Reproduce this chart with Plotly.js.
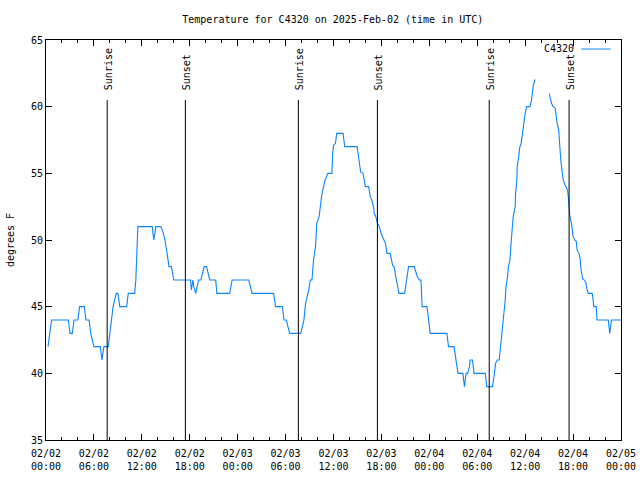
<!DOCTYPE html>
<html>
<head>
<meta charset="utf-8">
<script src="https://cdn.plot.ly/plotly-3.0.1.min.js"></script>
<style>html,body{margin:0;padding:0;background:#fff}#chart{width:640px;height:480px}</style>
</head>
<body>
<div id="chart"></div>
<script>
// Hours since 2025-02-02 00:00 UTC
const hours = [
0.25,0.5,0.7,2.8,3.0,3.3,3.5,4.0,4.2,4.8,5.0,5.4,5.6,6.0,6.8,7.0,7.25,7.8,8.0,8.2,8.4,8.8,9.0,9.25,10.1,10.3,11.1,
11.25,11.35,11.45,11.5,13.3,13.5,13.75,14.4,14.7,14.9,15.1,15.2,15.4,15.7,16.0,18.1,18.2,18.4,18.5,18.75,19.1,19.4,
19.8,20.1,20.5,21.25,21.4,23.0,23.3,25.4,25.8,28.5,28.75,29.6,29.8,30.1,30.5,31.9,
32.3,32.5,32.9,33.1,33.3,33.5,33.75,33.9,34.2,34.3,34.5,34.75,34.95,35.3,35.8,35.9,36.0,36.25,36.4,37.2,37.4,38.96,
39.1,39.25,39.4,39.7,39.9,40.0,40.4,40.6,40.8,41.0,41.1,41.3,41.5,41.75,41.95,42.2,42.5,42.7,43.1,43.4,43.6,43.8,43.96,
44.2,44.9,45.1,45.3,45.4,46.1,46.3,46.5,46.75,46.95,47.1,47.7,47.9,48.1,50.2,50.4,51.1,51.25,51.4,51.6,52.2,52.4,
52.6,52.8,53.0,53.1,53.4,53.6,55.0,55.2,55.9,56.1,56.3,56.5,56.75,56.96,57.2,57.4,57.5,57.6,57.8,57.9,58.1,58.2,58.3,
58.4,58.5,58.75,58.8,58.96,59.0,59.2,59.3,59.5,59.6,59.75,59.9,60.0,60.2,60.6,60.8,60.9,61.0,61.2,61.3,
62.0,
63.0,63.2,63.3,63.5,63.75,63.9,64.0,64.2,64.25,64.4,64.5,64.6,64.75,64.9,65.1,65.3,65.4,65.5,65.6,65.8,65.9,66.0,66.2,
66.4,66.5,66.75,66.9,67.0,67.2,67.4,67.6,67.7,67.9,68.4,68.5,68.6,68.9,69.0,70.4,70.6,70.8,72.0
];
const tempF = [
42,43,44,44,43,43,44,44,45,45,44,44,43,42,42,41,42,42,43,44,45,46,46,45,45,46,46,
47,48.75,50.25,51,51,50,51,51,50.5,50,49.25,48.75,48,48,47,47,46.25,47,46.5,46,47,47,
48,48,47,47,46,46,47,47,46,46,45,45,44,44,43,43,
44,45.25,46.25,47,47,48.5,49.5,51.25,51.75,52.25,53.25,54,54.5,55,55,56.5,57.1,57.25,58,58,57,57,
56.5,55.75,55.1,55,54.25,54,54,53.25,53,52.5,52,51.75,51.25,51,50.5,50.1,49.75,49,49,48.1,48,47.25,46.75,
46,46,46.75,47.6,48,48,47.6,47.25,47,47,45,45,44.1,43,43,42,42,41.5,40.75,40,40,39,
40,40,40.4,41,41,40,40,39,39,39.75,40.75,41,41,42.25,43.5,44.5,45.5,46.5,47.25,48,48.5,49.5,50.5,
51.25,51.75,52.5,53.5,54.5,55.5,56.25,56.9,57.25,57.75,58.25,58.9,59.5,60,60,60.5,61,61.5,62,62,
null,
61,60.5,60.25,60,59.9,59.25,58.75,58.25,57.5,56.5,55.75,55.25,54.6,54.25,54,53.75,53.25,52.5,51.75,51.25,50.75,50.25,50,
49.9,49.25,49,48.5,47.75,47.1,47,46.8,46.4,46,46,45.5,45,45,44,44,43,44,44
];

const sunEventHours = [7.66, 17.45, 31.6, 41.5, 55.5, 65.5];
const sunEventLabels = ["Sunrise", "Sunset", "Sunrise", "Sunset", "Sunrise", "Sunset"];

const xTickVals = [0,6,12,18,24,30,36,42,48,54,60,66,72];
const xTickText = ["02/02<br>00:00","02/02<br>06:00","02/02<br>12:00","02/02<br>18:00",
  "02/03<br>00:00","02/03<br>06:00","02/03<br>12:00","02/03<br>18:00",
  "02/04<br>00:00","02/04<br>06:00","02/04<br>12:00","02/04<br>18:00","02/05<br>00:00"];
const yTickVals = [35,40,45,50,55,60,65];

const seriesName = "C4320";
const lineColor = "#0a84ff";
const FONT = "DejaVu Sans Mono, monospace";

const shapes = sunEventHours.map(h => ({
  type: "line", xref: "x", yref: "paper", x0: h, x1: h, y0: 0, y1: 0.85,
  line: {color: "#000", width: 1}
}));
// legend sample line
shapes.push({type: "line", xref: "paper", yref: "paper", x0: 0.931, x1: 0.982, y0: 0.9775, y1: 0.9775,
  line: {color: lineColor, width: 1}});

const annotations = sunEventHours.map((h, i) => ({
  x: h, xref: "x", y: 0.87, yref: "paper", text: sunEventLabels[i], textangle: -90,
  showarrow: false, xanchor: "center", yanchor: "bottom", xshift: 1,
  font: {family: FONT, size: 10, color: "#000"}
}));
annotations.push({x: 0.922, xref: "paper", y: 0.9775, yref: "paper", text: seriesName,
  showarrow: false, xanchor: "right", yanchor: "middle",
  font: {family: FONT, size: 10, color: "#000"}});

const trace = {
  x: hours, y: tempF, type: "scatter", mode: "lines", name: seriesName,
  line: {color: lineColor, width: 1.1}, connectgaps: false, showlegend: false
};

const layout = {
  width: 640, height: 480,
  margin: {l: 46, r: 19, t: 40, b: 40},
  paper_bgcolor: "#fff", plot_bgcolor: "#fff",
  font: {family: FONT, size: 10, color: "#000"},
  title: {text: "Temperature for C4320 on 2025-Feb-02 (time in UTC)", x: 0.52, xanchor: "center", y: 0.96, yanchor: "middle",
    font: {family: FONT, size: 10, color: "#000"}},
  xaxis: {
    range: [0, 72], tickvals: xTickVals, ticktext: xTickText,
    ticks: "inside", ticklen: 6, tickcolor: "#000", tickwidth: 1,
    showline: true, linecolor: "#000", linewidth: 1, mirror: "ticks",
    showgrid: false, zeroline: false, automargin: false, ticklabelstandoff: 4,
    minor: {ticks: "inside", ticklen: 3, dtick: 2, tick0: 0, tickcolor: "#000", showgrid: false},
    tickfont: {family: FONT, size: 10, color: "#000"}
  },
  yaxis: {
    range: [35, 65], tickvals: yTickVals,
    ticks: "inside", ticklen: 6, tickcolor: "#000", tickwidth: 1,
    showline: true, linecolor: "#000", linewidth: 1, mirror: "ticks",
    showgrid: false, zeroline: false, automargin: false,
    tickfont: {family: FONT, size: 10, color: "#000"},
    title: {text: "degrees F", standoff: 14, font: {family: FONT, size: 10, color: "#000"}}
  },
  shapes: shapes,
  annotations: annotations,
  showlegend: false
};

Plotly.newPlot("chart", [trace], layout, {displayModeBar: false, staticPlot: true});
</script>
</body>
</html>
